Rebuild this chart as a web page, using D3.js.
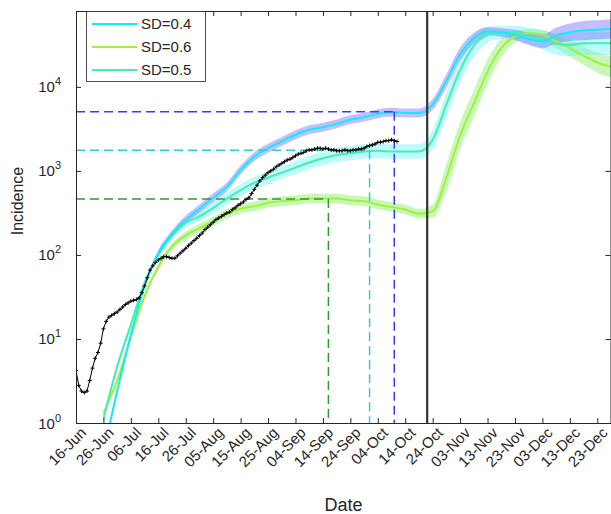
<!DOCTYPE html>
<html><head><meta charset="utf-8">
<script src="https://cdn.jsdelivr.net/npm/d3@7"></script>
<style>
body{margin:0;background:#fff;overflow:hidden}
text{font-family:"Liberation Sans",Arial,Helvetica,sans-serif;fill:#262626}
</style>
</head><body>
<svg id="chart" width="611" height="514"></svg>
<script>
// ---------- data ----------
const xStart = "2020-06-16";
const xEnd = "2020-12-28";
const xTickDates = ["2020-06-16","2020-06-26","2020-07-06","2020-07-16","2020-07-26","2020-08-05","2020-08-15","2020-08-25","2020-09-04","2020-09-14","2020-09-24","2020-10-04","2020-10-14","2020-10-24","2020-11-03","2020-11-13","2020-11-23","2020-12-03","2020-12-13","2020-12-23"];
const xTickLabels = ["16-Jun","26-Jun","06-Jul","16-Jul","26-Jul","05-Aug","15-Aug","25-Aug","04-Sep","14-Sep","24-Sep","04-Oct","14-Oct","24-Oct","03-Nov","13-Nov","23-Nov","03-Dec","13-Dec","23-Dec"];
const yTickValues = [1, 10, 100, 1000, 10000];
const yTickExps = ["0","1","2","3","4"];

// observed daily incidence from 16-Jun
const observedStart = "2020-06-16";
const observed = [4.2,2.8,2.4,2.3,2.4,3.2,4.5,5.9,6.9,8.9,
 13.2,16.2,18.2,19.1,20,20.9,22.4,24,25.7,26.9,
 28.2,28.8,29.5,30.9,35.5,42.7,53.7,66.1,74.1,81.3,
 87.1,91.2,95.5,95.5,93.3,91.2,91.2,97.7,105,112,
 120,129,138,148,158,170,182,200,214,229,
 245,263,275,288,302,316,324,347,363,389,
 407,427,457,479,537,603,676,759,832,891,
 955,1000,1047,1122,1175,1230,1288,1349,1380,1445,
 1514,1585,1622,1660,1738,1778,1778,1820,1862,1862,
 1820,1862,1820,1778,1778,1738,1738,1738,1778,1738,
 1738,1778,1778,1820,1820,1862,1950,1995,2042,2089,
 2188,2188,2239,2291,2291,2344,2291,2239];

// model projections, every 5 days from 26-Jun
const modelStart = "2020-06-26";
const modelStepDays = 5;
const sd04 = [0.45,2.4,11.2,42.7,105,178,263,355,479,646,1023,1479,1862,2239,2692,3090,3311,3631,4074,4365,4786,5012,4898,4898,6166,11750,24550,38020,45710,44670,41690,37150,34670,40740,44670,46770,47860,48980];
const sd04Band = [1.06,1.06,1.07,1.08,1.09,1.1,1.11,1.12,1.13,1.13,1.13,1.13,1.13,1.13,1.13,1.13,1.13,1.13,1.13,1.13,1.13,1.13,1.13,1.13,1.16,1.2,1.2,1.16,1.12,1.12,1.15,1.18,1.2,1.24,1.27,1.3,1.3,1.3];
const sd05 = [1.12,4.7,14.8,46.8,100,170,240,288,363,468,589,724,832,955,1096,1259,1413,1549,1622,1698,1738,1698,1698,1698,2344,6166,15850,30900,41690,44670,43650,40740,36310,32360,31620,33110,33110,33110];
const sd05Band = [1.08,1.08,1.08,1.08,1.09,1.1,1.12,1.15,1.17,1.18,1.18,1.18,1.18,1.18,1.19,1.2,1.2,1.21,1.22,1.22,1.22,1.22,1.22,1.22,1.3,1.4,1.4,1.35,1.25,1.2,1.22,1.25,1.3,1.34,1.36,1.38,1.38,1.38];
const sd06 = [1.32,3.2,10.5,32.4,72.4,126,170,209,251,309,355,380,417,437,447,468,468,468,447,437,398,372,347,309,331,832,2630,6310,15140,28840,39810,43650,41690,34670,28840,23440,19500,17380];
const sd06Band = [1.06,1.06,1.06,1.07,1.08,1.1,1.12,1.13,1.14,1.14,1.14,1.14,1.14,1.14,1.14,1.14,1.14,1.14,1.14,1.14,1.14,1.14,1.14,1.14,1.2,1.45,1.45,1.45,1.4,1.3,1.18,1.12,1.15,1.2,1.25,1.28,1.32,1.34];

const seriesNames = ["SD=0.4","SD=0.6","SD=0.5"];
const lineColors = ["#10ecf8","#a2f03c","#3ff0ae"];
const bandColors = ["#7a70ff","#86f060","#6ff4f8"];

const cutoffDate = "2020-10-22";
const refValues = [5050, 1760, 464];
const refDates = ["2020-10-10","2020-10-01","2020-09-16"];
const refColors = ["#3c3cff","#33cccc","#2e9a2e"];

// ---------- layout ----------
const parse = d3.timeParse("%Y-%m-%d");
const L = 76, R = 611, T = 11, B = 423;
const svg = d3.select("#chart");
const x = d3.scaleTime().domain([parse(xStart), parse(xEnd)]).range([L, R]);
const y = d3.scaleLog().domain([1, 80000]).range([B, T]);

svg.append("defs").append("clipPath").attr("id","clip")
  .append("rect").attr("x",L).attr("y",T).attr("width",R-L).attr("height",B-T);
const plot = svg.append("g").attr("clip-path","url(#clip)");

const modelDates = sd04.map((_,i)=>d3.timeDay.offset(parse(modelStart), i*modelStepDays));
const series = [
  {vals: sd04, band: sd04Band, ci:0},
  {vals: sd06, band: sd06Band, ci:1},
  {vals: sd05, band: sd05Band, ci:2}
];

const area = d3.area().curve(d3.curveMonotoneX)
  .x(d=>x(d.date)).y0(d=>y(d.lo)).y1(d=>y(d.hi));
const line = d3.line().curve(d3.curveMonotoneX)
  .x(d=>x(d.date)).y(d=>y(d.v));

const drawOrder = [1,2,0];
drawOrder.forEach(k=>{
  const s = series[k];
  const pts = s.vals.map((v,i)=>({date:modelDates[i], v:v, lo:v/s.band[i], hi:v*s.band[i]}));
  plot.append("path").datum(pts).attr("d",area)
    .attr("fill",bandColors[s.ci]).attr("fill-opacity",0.45).attr("stroke","none");
});
drawOrder.forEach(k=>{
  const s = series[k];
  const pts = s.vals.map((v,i)=>({date:modelDates[i], v:v}));
  plot.append("path").datum(pts).attr("d",line)
    .attr("fill","none").attr("stroke",lineColors[s.ci]).attr("stroke-width",2);
});

// reference dashed lines
refValues.forEach((v,i)=>{
  const xd = x(parse(refDates[i])), yv = y(v);
  plot.append("line").attr("x1",L).attr("x2",xd).attr("y1",yv).attr("y2",yv)
    .attr("stroke",refColors[i]).attr("stroke-width",1.5).attr("stroke-dasharray","9,5");
  plot.append("line").attr("x1",xd).attr("x2",xd).attr("y1",yv).attr("y2",B)
    .attr("stroke",refColors[i]).attr("stroke-width",1.5).attr("stroke-dasharray","9,5");
});

// observed
const obs = observed.map((v,i)=>({date:d3.timeDay.offset(parse(observedStart), i), v:v}));
plot.append("path").datum(obs).attr("d", d3.line().x(d=>x(d.date)).y(d=>y(d.v)))
  .attr("fill","none").attr("stroke","#000").attr("stroke-width",1);
plot.append("g").selectAll("path").data(obs).join("path")
  .attr("transform",d=>`translate(${x(d.date)},${y(d.v)})`)
  .attr("d","M-2,0H2M0,-2V2").attr("stroke","#000").attr("stroke-width",1);

// cutoff line
plot.append("line").attr("x1",x(parse(cutoffDate))).attr("x2",x(parse(cutoffDate)))
  .attr("y1",T).attr("y2",B).attr("stroke","#333").attr("stroke-width",2.2);

// ---------- axes ----------
const axColor = "#262626";
const tickDates = xTickDates.map(parse);
const gx = svg.append("g").attr("transform",`translate(0,${B})`)
  .call(d3.axisBottom(x).tickValues(tickDates).tickSizeInner(-5).tickSizeOuter(0)
    .tickFormat((d,i)=>xTickLabels[i]));
gx.selectAll("text").attr("x",0).attr("y",0).attr("dy","0.35em")
  .attr("transform","translate(7,7) rotate(-45)").style("text-anchor","end")
  .style("font-size","15px").attr("fill",axColor);
const gxt = svg.append("g").attr("transform",`translate(0,${T})`)
  .call(d3.axisTop(x).tickValues(tickDates).tickSizeInner(-5).tickSizeOuter(0).tickFormat(""));

const gy = svg.append("g").attr("transform",`translate(${L},0)`)
  .call(d3.axisLeft(y).tickValues(yTickValues).tickSizeInner(-5).tickSizeOuter(0).tickFormat(""));
gy.selectAll(".tick").each(function(d,i){
  const t = d3.select(this).append("text").attr("x",-15).attr("y",5)
    .attr("text-anchor","end").style("font-size","15px").attr("fill",axColor);
  t.append("tspan").text("10");
  t.append("tspan").attr("dy",-7).style("font-size","11px").text(yTickExps[i]);
});
const gyr = svg.append("g").attr("transform",`translate(${R-0.5},0)`)
  .call(d3.axisRight(y).tickValues(yTickValues).tickSizeInner(-5).tickSizeOuter(0).tickFormat(""));

[gx,gxt,gy,gyr].forEach(g=>{
  g.selectAll("path.domain").attr("stroke",axColor);
  g.selectAll(".tick line").attr("stroke",axColor);
});

svg.append("text").attr("x",(L+R)/2).attr("y",511).attr("text-anchor","middle")
  .style("font-size","18px").text("Date");
svg.append("text").attr("transform","translate(23,201) rotate(-90)").attr("text-anchor","middle")
  .style("font-size","16px").text("Incidence");

// ---------- legend ----------
const lg = svg.append("g");
lg.append("rect").attr("x",86.5).attr("y",T+0.5).attr("width",119).attr("height",70)
  .attr("fill","#fff").attr("stroke",axColor).attr("stroke-width",0.8);
seriesNames.forEach((n,i)=>{
  const yy = 24 + i*23;
  lg.append("line").attr("x1",92).attr("x2",137).attr("y1",yy).attr("y2",yy)
    .attr("stroke",lineColors[i]).attr("stroke-width",2);
  lg.append("text").attr("x",141).attr("y",yy).attr("dy","0.36em")
    .style("font-size","15px").text(n);
});
</script>
</body></html>
